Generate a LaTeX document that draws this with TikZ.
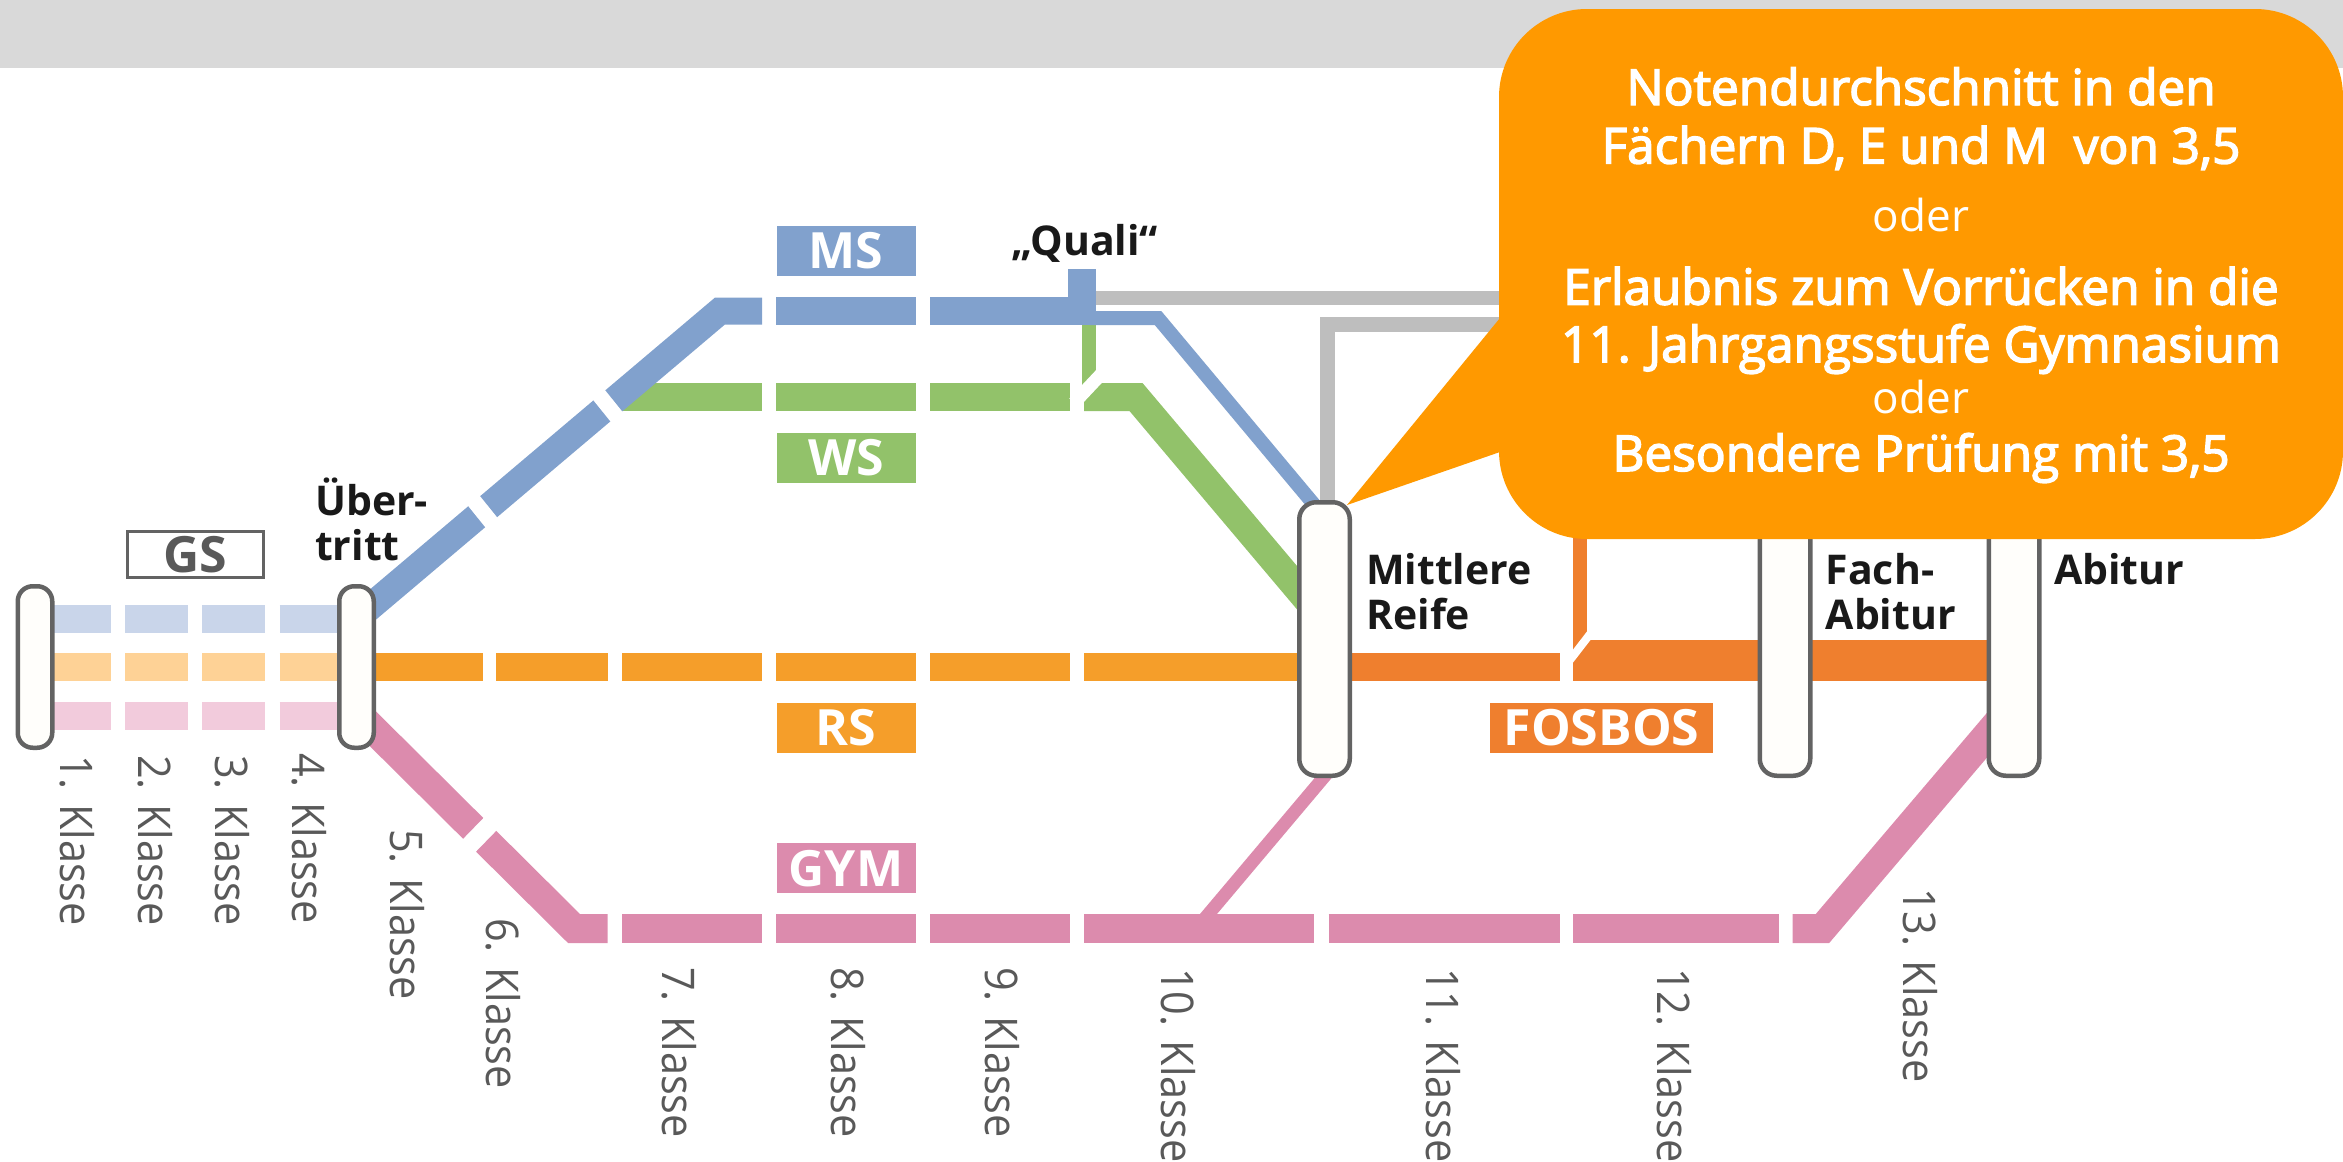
\documentclass[tikz,border=0pt]{standalone}
\usepackage{fontspec}
\setmainfont{Open Sans}
\newfontfamily\klassefont[FakeStretch=0.92]{Open Sans}
\newfontfamily\hintfont[FakeBold=3]{Open Sans}
\usetikzlibrary{backgrounds}
\definecolor{msblue}{HTML}{81A1CD}
\definecolor{wsgreen}{HTML}{92C26A}
\definecolor{rsorange}{HTML}{F59E2A}
\definecolor{fosorange}{HTML}{EF7F2E}
\definecolor{gympink}{HTML}{DC8BAD}
\definecolor{paleblue}{HTML}{C9D5EA}
\definecolor{paleorange}{HTML}{FED296}
\definecolor{palepink}{HTML}{F2CBDC}
\definecolor{qualigray}{HTML}{BEBEBE}
\definecolor{bandgray}{HTML}{D9D9D9}
\definecolor{barline}{HTML}{636363}
\definecolor{barfill}{HTML}{FFFEFB}
\definecolor{hintorange}{HTML}{FF9900}
\definecolor{klassegray}{HTML}{595959}
\tikzset{
  stopbar/.style={draw=barline, fill=barfill, line width=4.5pt, inner sep=0pt},
  smallbar/.style={stopbar, rounded corners=15pt, minimum width=34.5pt, minimum height=161.5pt},
  bigbar/.style={stopbar, rounded corners=17pt, minimum width=50.5pt, minimum height=273.5pt},
  typebox/.style={fill=#1, text=white, inner sep=0pt, minimum height=50pt, minimum width=139pt,
    font=\fontsize{50}{50}\selectfont\bfseries},
  track/.style={line width=#1, line join=miter, miter limit=10},
  whitecut/.style={draw=white, line width=#1},
  klasse/.style={rotate=-90, anchor=base west, inner sep=0pt, text=klassegray,
    font=\klassefont\fontsize{45}{45}\selectfont},
  boldlabel/.style={anchor=base west, inner sep=0pt, text=black!90,
    font=\fontsize{41}{41}\selectfont\bfseries},
  hintline/.style={anchor=base, inner sep=0pt, text=white, font=\hintfont\fontsize{49.5}{50}\selectfont},
  hintor/.style={anchor=base, inner sep=0pt, text=white, font=\fontsize{44}{44}\selectfont}
}
\begin{document}
\begin{tikzpicture}[x=1pt,y=-1pt]
  \useasboundingbox (0,0) rectangle (2343,1162);

  % Stop bars
  \node[smallbar] (start) at (35,667) {};
  \node[smallbar] (uebertritt) at (356.5,667) {};
  \node[bigbar] (mittlere) at (1324.5,639) {};
  \node[bigbar] (fachabi) at (1785,639) {};
  \node[bigbar] (abitur) at (2014,639) {};

  % Knees of the tracks
  \coordinate (msstart) at (357,618);
  \coordinate (msknee) at (720,311);
  \coordinate (mselbow) at (1158,318);
  \coordinate (msend) at (1327,520);
  \coordinate (wsknee) at (1136,397);
  \coordinate (wsend) at (1315,609);
  \coordinate (gymstart) at (354,710);
  \coordinate (gymknee) at (574,928.5);
  \coordinate (gymelbow) at (1822.5,928.5);
  \coordinate (gymend) at (2005,714);
  \coordinate (gymbranch) at (1340,758);
  \coordinate (gymfoot) at (1195,930);
  \coordinate (qualicorner) at (1327.5,324.5);
  \coordinate (qualibottom) at (1327.5,510);

  \begin{scope}[on background layer]
    \fill[bandgray] (0,0) rectangle (2343,68);

    % Grundschule
    \foreach \a/\b in {54/111,125.4/188,202/265,279.5/340} {
      \draw[paleblue, track=28pt] (\a,619) -- (\b,619);
      \draw[paleorange, track=28pt] (\a,667) -- (\b,667);
      \draw[palepink, track=28pt] (\a,716) -- (\b,716);
    }

    % Gray links behind the callout
    \draw[qualigray, track=14pt] (1090,298) -- (1540,298);
    \draw[qualigray, track=15pt] (qualibottom) -- (qualicorner) -- (1540,324.5);

    % WS
    \draw[wsgreen, track=14pt] (1089,320) -- (1089,385);
    \draw[wsgreen, track=28pt] (622,397) -- (761.7,397);
    \foreach \a/\b in {776/916,930/1070}
      \draw[wsgreen, track=28pt] (\a,397) -- (\b,397);
    \draw[wsgreen, track=28pt] (1084,397) -- (wsknee) -- (wsend);
    \draw[whitecut=13pt] (1074,403) -- (1106,369);

    % MS
    \draw[msblue, track=27pt] (msstart) -- (msknee) -- (762,311);
    \foreach \a/\b in {776/916,930/1096}
      \draw[msblue, track=27.7pt] (\a,311) -- (\b,311);
    \draw[msblue, track=28pt] (1082,269) -- (1082,311);
    \draw[msblue, track=14pt] (1090,318) -- (mselbow) -- (msend);
    \draw[whitecut=15.4pt] (470,496) -- (495,527);
    \draw[whitecut=15.4pt] (595,390) -- (620,421);

    % RS
    \foreach \a/\b in {370/482.6,496/608,622/762,776/916,930/1070,1084/1300}
      \draw[rsorange, track=28pt] (\a,667) -- (\b,667);

    % FOSBOS
    \draw[fosorange, track=14pt] (1580,530) -- (1580,650);
    \draw[fosorange, track=28pt] (1350,667) -- (1560,667);
    \draw[fosorange, track=40.7pt] (1573,660.3) -- (1990,660.3);
    \draw[whitecut=8pt] (1570,660) -- (1597,625);

    % GYM
    \draw[gympink, track=13pt] (gymbranch) -- (gymfoot);
    \draw[gympink, track=29pt] (gymstart) -- (gymknee) -- (607.7,928.5);
    \foreach \a/\b in {622/762,776/916,930/1070,1084/1314,1328.6/1560,1573/1778.7}
      \draw[gympink, track=29pt] (\a,928.5) -- (\b,928.5);
    \draw[gympink, track=29pt] (1792.7,928.5) -- (gymelbow) -- (gymend);
    \draw[whitecut=18pt] (462,853) -- (497,817);
  \end{scope}

  % Type boxes
  \node[typebox=msblue] (ms) at (846,251) {MS};
  \node[typebox=wsgreen] (ws) at (846,457.5) {WS};
  \node[typebox=rsorange] (rs) at (846,727.7) {RS};
  \node[typebox=gympink] (gym) at (846,868.4) {GYM};
  \node[typebox=fosorange, minimum width=223pt] (fosbos) at (1601.5,728) {FOSBOS};
  \node[draw=barline, line width=3pt, inner sep=0pt, minimum width=136pt, minimum height=46pt,
    text=klassegray, font=\fontsize{50}{50}\selectfont\bfseries] (gs) at (195.5,554.5) {GS};

  % Labels
  \node[boldlabel] (ueber1) at (315,515) {Über-};
  \node[boldlabel] (ueber2) at (315,560) {tritt};
  \node[boldlabel] (quali) at (1011,255) {„Quali“};
  \node[boldlabel] (reife1) at (1366,584) {Mittlere};
  \node[boldlabel] (reife2) at (1366,629) {Reife};
  \node[boldlabel] (fach1) at (1825.5,584) {Fach-};
  \node[boldlabel] (fach2) at (1825.5,629) {Abitur};
  \node[boldlabel] (abi) at (2054,584) {Abitur};

  % Grades
  \foreach \nr/\x/\y in {1/60/755,2/138/755,3/215/755,4/292/753,5/390/829,6/486/918,7/662/967,
      8/831/967,9/985/967,10/1161/968,11/1426/968,12/1657/968,13/1903/888}
    \node[klasse] (k\nr) at (\x,\y) {\nr. Klasse};

  % Callout
  \coordinate (hinttip) at (1347,505);
  \node[fill=hintorange, rounded corners=88pt, inner sep=0pt, minimum width=844pt, minimum height=530pt]
    (hint) at (1921,274) {};
  \fill[hintorange] (hinttip) -- (1500,318) -- (1500,452) -- cycle;
  \foreach \i/\y/\txt in {1/105/{Notendurchschnitt in den},2/163.5/{Fächern D, E und M\ \ von 3,5},
      3/304.6/{Erlaubnis zum Vorrücken in die},4/362/{11. Jahrgangsstufe Gymnasium},
      5/471/{Besondere Prüfung mit 3,5}}
    \node[hintline] (hint\i) at (1921,\y) {\txt};
  \node[hintor] (or1) at (1921,231) {oder};
  \node[hintor] (or2) at (1921,413.5) {oder};

\end{tikzpicture}
\end{document}
